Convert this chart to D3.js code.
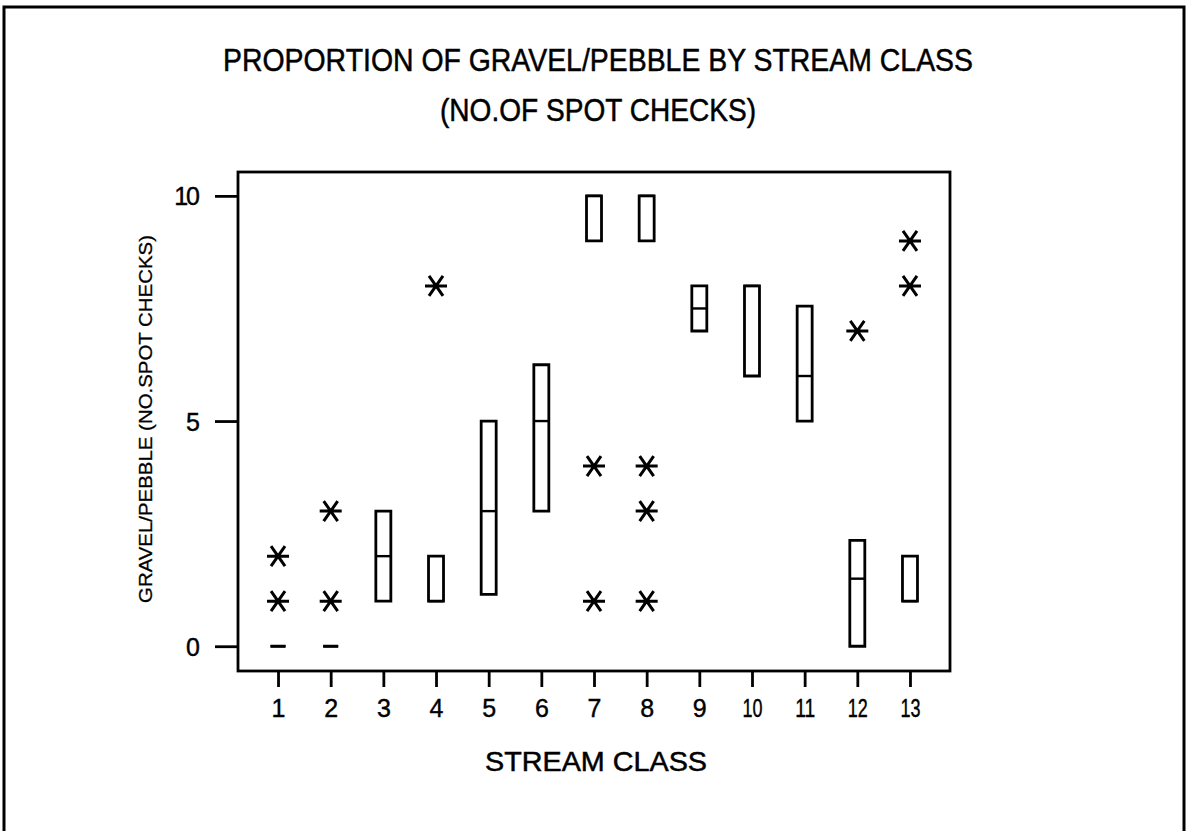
<!DOCTYPE html>
<html lang="en">
<head>
  <meta charset="UTF-8">
  <title>Proportion of Gravel/Pebble by Stream Class</title>
  <style>
    body {
      margin: 0;
      background: #fff;
    }
    svg {
      display: block;
      font-family: "Liberation Sans Narrow", "Liberation Sans", Arial, sans-serif;
    }
    .axis text {
      font-size: 25px;
      fill: #000;
      stroke: #000;
      stroke-width: 0.4;
    }
    .axis line {
      stroke: #000;
      stroke-width: 2.8;
    }
    .label {
      fill: #000;
      stroke: #000;
      stroke-width: 0.5;
    }
  </style>
</head>
<body>
  <div id="chart"></div>

  <script src="https://d3js.org/d3.v7.min.js"></script>
  <script>
    // stream classes and box stats (q1 / median / q3)
    const classes = [1, 2, 3, 4, 5, 6, 7, 8, 9, 10, 11, 12, 13];
    const q1 =      [0, 0, 1, 1, 1.15, 3, 9, 9, 7, 6, 5, 0, 1];
    const median =  [0, 0, 2, 1, 3, 5, 10, 10, 7.5, 8, 6, 1.5, 1];
    const q3 =      [0, 0, 3, 2, 5, 6.25, 10, 10, 8, 8, 7.55, 2.35, 2];

    // outliers drawn as asterisks
    const outlierClass = [1, 1, 2, 2, 4, 7, 7, 8, 8, 8, 12, 13, 13];
    const outlierValue = [1, 2, 1, 3, 8, 1, 4, 1, 3, 4, 7, 8, 9];

    const yTicks = [0, 5, 10];

    const width = 1187;
    const height = 831;
    const plot = { left: 238, right: 950, top: 172, bottom: 671 };
    const boxW = 15;

    const svg = d3.select("#chart")
      .append("svg")
      .attr("width", width)
      .attr("height", height);

    svg.append("rect")
      .attr("width", width)
      .attr("height", height)
      .attr("fill", "#fff");

    // scanned page border (no bottom edge visible)
    svg.append("path")
      .attr("d", `M4,${height + 5}V7H1184V${height + 5}`)
      .attr("fill", "none")
      .attr("stroke", "#000")
      .attr("stroke-width", 3);

    const x = d3.scaleLinear().domain([0.24, 13.76]).range([plot.left, plot.right]);
    const y = d3.scaleLinear().domain([-0.55, 10.53]).range([plot.bottom, plot.top]);

    // titles
    svg.append("text")
      .attr("class", "label")
      .attr("x", 223).attr("y", 71)
      .attr("textLength", 750).attr("lengthAdjust", "spacingAndGlyphs")
      .attr("font-size", 32)
      .text("PROPORTION OF GRAVEL/PEBBLE BY STREAM CLASS");

    svg.append("text")
      .attr("class", "label")
      .attr("x", 440).attr("y", 121)
      .attr("textLength", 316).attr("lengthAdjust", "spacingAndGlyphs")
      .attr("font-size", 32)
      .text("(NO.OF SPOT CHECKS)");

    // axes
    const yAxis = svg.append("g")
      .attr("class", "axis")
      .attr("transform", `translate(${plot.left},0)`)
      .call(d3.axisLeft(y).tickValues(yTicks).tickSize(23).tickSizeOuter(0).tickPadding(17));
    yAxis.select(".domain").remove();
    yAxis.selectAll("text").attr("dy", "0.36em").style("font-size", "25px")
      .attr("letter-spacing", -2);

    const xAxis = svg.append("g")
      .attr("class", "axis")
      .attr("transform", `translate(0,${plot.bottom})`)
      .call(d3.axisBottom(x).tickValues(classes).tickSize(16).tickSizeOuter(0).tickPadding(12));
    xAxis.select(".domain").remove();
    xAxis.selectAll("text").filter(d => d >= 10)
      .attr("textLength", 20).attr("lengthAdjust", "spacingAndGlyphs");

    svg.append("text")
      .attr("class", "label")
      .attr("x", 485).attr("y", 771)
      .attr("textLength", 222).attr("lengthAdjust", "spacingAndGlyphs")
      .attr("font-size", 28)
      .text("STREAM CLASS");

    svg.append("text")
      .attr("class", "label")
      .attr("transform", "translate(152,419) rotate(-90)")
      .attr("text-anchor", "middle")
      .attr("textLength", 368).attr("lengthAdjust", "spacingAndGlyphs")
      .attr("font-size", 19)
      .style("stroke-width", 0.3)
      .text("GRAVEL/PEBBLE (NO.SPOT CHECKS)");

    // plot frame
    svg.append("rect")
      .attr("x", plot.left).attr("y", plot.top)
      .attr("width", plot.right - plot.left)
      .attr("height", plot.bottom - plot.top)
      .attr("fill", "none")
      .attr("stroke", "#000")
      .attr("stroke-width", 2.8);

    // boxes (drawn as paths so a collapsed box still shows as a dash)
    const boxes = classes.map((c, i) => ({ c, q1: q1[i], med: median[i], q3: q3[i] }));

    const g = svg.append("g");
    g.selectAll("path.box")
      .data(boxes)
      .join("path")
      .attr("class", "box")
      .attr("d", d => {
        const x0 = x(d.c) - boxW / 2, x1 = x(d.c) + boxW / 2;
        return `M${x0},${y(d.q3)}H${x1}V${y(d.q1)}H${x0}Z`;
      })
      .attr("fill", "none")
      .attr("stroke", "#000")
      .attr("stroke-width", 2.8);

    g.selectAll("line.med")
      .data(boxes)
      .join("line")
      .attr("class", "med")
      .attr("x1", d => x(d.c) - boxW / 2)
      .attr("x2", d => x(d.c) + boxW / 2)
      .attr("y1", d => y(d.med))
      .attr("y2", d => y(d.med))
      .attr("stroke", "#000")
      .attr("stroke-width", 2.4);

    // asterisk glyph for outliers
    const star = "M-11,0H11M-7,-10L7,10M7,-10L-7,10";
    const outliers = outlierClass.map((c, i) => ({ c, v: outlierValue[i] }));
    g.selectAll("path.star")
      .data(outliers)
      .join("path")
      .attr("class", "star")
      .attr("transform", d => `translate(${x(d.c)},${y(d.v)})`)
      .attr("d", star)
      .attr("fill", "none")
      .attr("stroke", "#000")
      .attr("stroke-width", 3);
  </script>
</body>
</html>
